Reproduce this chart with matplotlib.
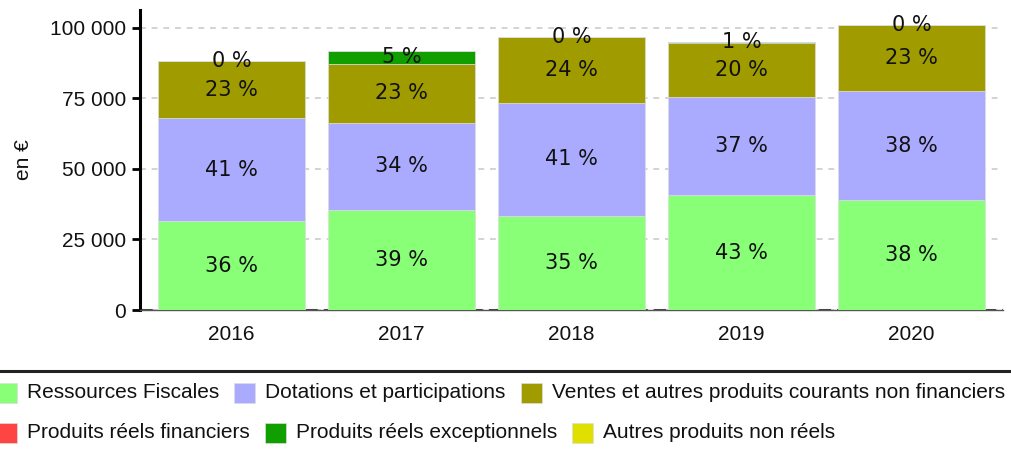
import matplotlib
matplotlib.use("Agg")
import matplotlib.pyplot as plt
from matplotlib.patches import Rectangle
from matplotlib.lines import Line2D
import numpy as np

years = ["2016", "2017", "2018", "2019", "2020"]
ressources_fiscales = [31500, 35400, 33400, 40700, 38800]
dotations = [36300, 30800, 39800, 34800, 38800]
ventes = [20500, 20900, 23300, 18900, 23400]
produits_financiers = [0, 0, 0, 0, 0]
produits_exceptionnels = [0, 4700, 0, 600, 0]
autres_non_reels = [0, 0, 0, 0, 0]

series_names = ["Ressources Fiscales", "Dotations et participations",
                "Ventes et autres produits courants non financiers",
                "Produits réels financiers", "Produits réels exceptionnels",
                "Autres produits non réels"]
series_values = [ressources_fiscales, dotations, ventes,
                 produits_financiers, produits_exceptionnels, autres_non_reels]
colors = ["#88ff77", "#aaaaff", "#a09c00", "#ff4444", "#119f00", "#e0e000"]
show_labels = [True, True, True, False, True, False]

FS = 15
LFS = 15
W, H = 1011, 451
fig = plt.figure(figsize=(W / 100, H / 100), dpi=100)
ax = fig.add_axes([140 / W, 1 - 310 / H, (1003 - 140) / W, 300 / H])

x = np.arange(len(years))
totals = np.sum(np.array(series_values), axis=0)
bottom = np.zeros(len(years))
for name, vals, col, lab in zip(series_names, series_values, colors, show_labels):
    vals = np.array(vals, dtype=float)
    ax.bar(x, vals, width=0.87, bottom=bottom, color=col, edgecolor="#dddddd",
           linewidth=0.5, zorder=3)
    if lab:
        for i in range(len(years)):
            pct = int(round(vals[i] / totals[i] * 100))
            ax.text(x[i], bottom[i] + vals[i] / 2, f"{pct} %", ha="center", va="center",
                    fontsize=FS, family="DejaVu Sans", color="#111111", zorder=5)
    bottom += vals

ax.set_xlim(-0.538, 4.538)
ax.set_ylim(0, 106200)
yt = [0, 25000, 50000, 75000, 100000]
ax.set_yticks(yt)
ax.set_yticklabels([f"{v:,}".replace(",", " ") for v in yt],
                   family="Liberation Sans", fontsize=FS, color="#111111")
ax.set_xticks(x)
ax.set_xticklabels(years, family="Liberation Sans", fontsize=FS, color="#111111")
ax.tick_params(axis="y", length=6, width=2, color="black", pad=4)
ax.tick_params(axis="x", length=0, pad=11)
ax.yaxis.grid(True, linestyle=(0, (3.5, 3.5)), color="#cccccc", linewidth=1.2, zorder=0)
ax.set_axisbelow(True)
for s in ["top", "right"]:
    ax.spines[s].set_visible(False)
ax.spines["left"].set_linewidth(2.2)
ax.spines["left"].set_color("black")
ax.spines["bottom"].set_linewidth(1.0)
ax.spines["bottom"].set_color("#555555")
ax.axhline(0, color="#444444", linewidth=2.2, linestyle=(0, (4, 2)), zorder=1)
ax.set_ylabel("en €", family="Liberation Sans", fontsize=FS, color="#111111", labelpad=12)

# legend separator line
fig.add_artist(Line2D([0, 1], [1 - 371 / H, 1 - 371 / H], transform=fig.transFigure,
                      color="#222222", linewidth=2.2))

# legend flow layout in pixel coordinates
renderer = fig.canvas.get_renderer()
rows = [[0, 1, 2], [3, 4, 5]]
row_y = [393, 433]
for r, idxs in enumerate(rows):
    px = -4
    yc = row_y[r]
    for k in idxs:
        fig.add_artist(Rectangle((px / W, 1 - (yc + 10) / H), 21 / W, 20 / H,
                                 transform=fig.transFigure, facecolor=colors[k],
                                 edgecolor="#dddddd", linewidth=0.5))
        t = fig.text((px + 31) / W, 1 - yc / H, series_names[k], ha="left", va="center",
                     family="Liberation Sans", fontsize=LFS, color="#111111")
        bb = t.get_window_extent(renderer)
        px = bb.x1 + 15

fig.savefig("out.png", dpi=100)
